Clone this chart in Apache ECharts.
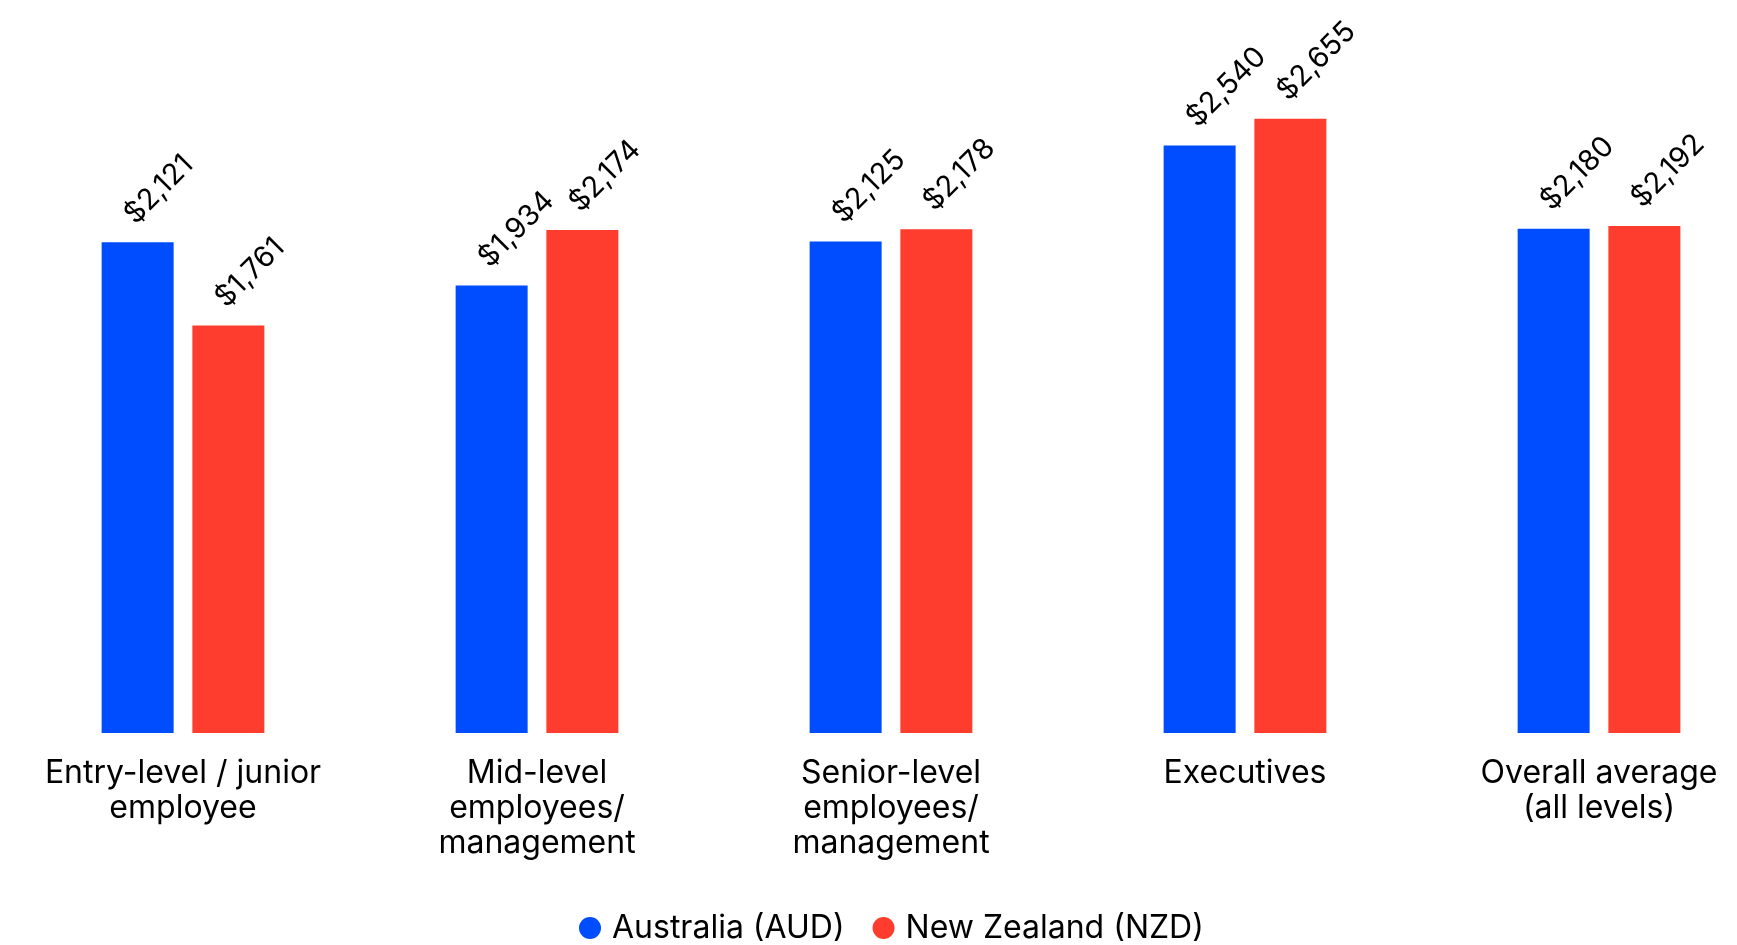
<!DOCTYPE html>
<html>
<head>
<meta charset="utf-8">
<title>Average salary by level</title>
<script src="https://cdn.jsdelivr.net/npm/echarts@6/dist/echarts.min.js"></script>
<style>
  html, body { margin: 0; padding: 0; background: #ffffff; }
  #chart { width: 1737px; height: 945px; }
</style>
</head>
<body>
<div id="chart"></div>
<script>
// Category labels (line breaks as shown under each group)
const categories = [
  'Entry-level / junior\nemployee',
  'Mid-level\nemployees/\nmanagement',
  'Senior-level\nemployees/\nmanagement',
  'Executives',
  'Overall average\n(all levels)'
];

// Series names
const seriesNames = ['Australia (AUD)', 'New Zealand (NZD)'];

// Values per level
const australia = [2121, 1934, 2125, 2540, 2180];
const newZealand = [1761, 2174, 2178, 2655, 2192];

const FONT = 'Inter';
const BLUE = '#004dff';
const RED = '#ff3d2e';

function money(v) {
  return '$' + v.toLocaleString('en-US');
}

const valueLabel = {
  show: true,
  position: [38, -13],
  rotate: 45,
  align: 'left',
  verticalAlign: 'bottom',
  color: '#000000',
  fontFamily: FONT,
  fontSize: 29,
  formatter: p => money(p.value)
};

const chart = echarts.init(document.getElementById('chart'), null, { renderer: 'canvas' });

chart.setOption({
  animation: false,
  backgroundColor: '#ffffff',
  grid: {
    left: 6,
    right: -39,
    top: 39,
    bottom: 212,
    containLabel: false,
    outerBoundsMode: 'none'
  },
  legend: {
    data: seriesNames,
    left: 574,
    top: 907,
    icon: 'circle',
    itemWidth: 22,
    itemHeight: 22,
    itemGap: 28,
    textStyle: { fontFamily: FONT, fontSize: 32, color: '#000000', padding: [0, 0, 0, 6] }
  },
  xAxis: {
    type: 'category',
    data: categories,
    axisLine: { show: false },
    axisTick: { show: false },
    axisLabel: {
      interval: 0,
      margin: 23,
      color: '#000000',
      fontFamily: FONT,
      fontSize: 32,
      lineHeight: 35
    }
  },
  yAxis: {
    type: 'value',
    min: 0,
    max: 3000,
    show: false,
    splitLine: { show: false }
  },
  series: [
    {
      name: seriesNames[0],
      type: 'bar',
      data: australia,
      barWidth: 72,
      barGap: '26%',
      itemStyle: { color: BLUE },
      label: valueLabel
    },
    {
      name: seriesNames[1],
      type: 'bar',
      data: newZealand,
      barWidth: 72,
      barGap: '26%',
      itemStyle: { color: RED },
      label: valueLabel
    }
  ]
});
</script>
</body>
</html>
